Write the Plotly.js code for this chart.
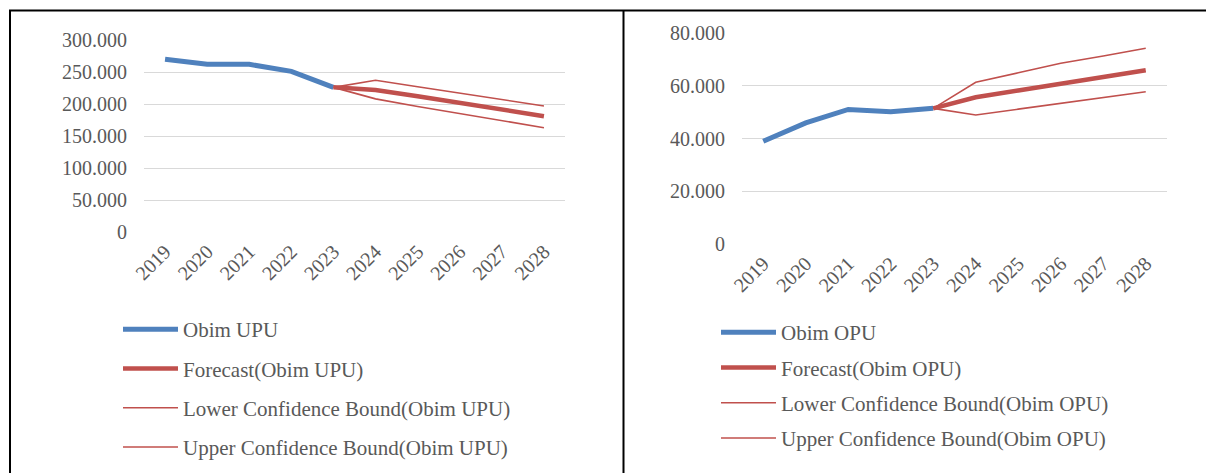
<!DOCTYPE html>
<html><head><meta charset="utf-8">
<script src="https://cdn.plot.ly/plotly-3.0.1.min.js"></script>
<style>html,body{margin:0;padding:0;background:#fff;}#chart{width:1206px;height:473px;}</style>
</head><body><div id="chart"></div>
<script>
const years = ['2019','2020','2021','2022','2023','2024','2025','2026','2027','2028'];

const upuActual   = [270, 262, 262, 251, 226, null, null, null, null, null];
const upuForecast = [null, null, null, null, 226, 222, 212, 202, 191, 181];
const upuLower    = [null, null, null, null, 226, 208, 196, 185, 174, 163];
const upuUpper    = [null, null, null, null, 226, 237, 227, 217, 207, 197];

const opuActual   = [39.0, 46.0, 51.1, 50.2, 51.5, null, null, null, null, null];
const opuForecast = [null, null, null, null, 51.5, 55.7, 58.3, 61.0, 63.4, 66.0];
const opuLower    = [null, null, null, null, 51.5, 49.0, 51.2, 53.4, 55.5, 57.8];
const opuUpper    = [null, null, null, null, 51.5, 61.4, 65.0, 68.6, 71.4, 74.3];

const upuTickVals = [0, 50, 100, 150, 200, 250, 300];
const upuTickText = ['0', '50.000', '100.000', '150.000', '200.000', '250.000', '300.000'];
const opuTickVals = [0, 20, 40, 60, 80];
const opuTickText = ['0', '20.000', '40.000', '60.000', '80.000'];

const upuNames = ['Obim UPU', 'Forecast(Obim UPU)', 'Lower Confidence Bound(Obim UPU)', 'Upper Confidence Bound(Obim UPU)'];
const opuNames = ['Obim OPU', 'Forecast(Obim OPU)', 'Lower Confidence Bound(Obim OPU)', 'Upper Confidence Bound(Obim OPU)'];

const BLUE = '#4F81BD', RED = '#C0504D';
const W = 1206, H = 473;
const px = v => v / W, py = v => 1 - v / H;

function mk(y, name, color, width, xa, ya, leg, grp) {
  return {x: years, y: y, name: name, type: 'scatter', mode: 'lines',
    line: {color: color, width: width}, xaxis: xa, yaxis: ya, legend: leg,
    legendgroup: grp, connectgaps: false, hoverinfo: 'skip'};
}

const data = [
  mk(upuActual, upuNames[0], BLUE, 5, 'x', 'y', 'legend', 'a1'),
  mk(upuForecast, upuNames[1], RED, 4.5, 'x', 'y', 'legend', 'a2'),
  mk(upuLower, upuNames[2], RED, 1.6, 'x', 'y', 'legend', 'a3'),
  mk(upuUpper, upuNames[3], RED, 1.6, 'x', 'y', 'legend', 'a4'),
  mk(opuActual, opuNames[0], BLUE, 5, 'x2', 'y2', 'legend2', 'b1'),
  mk(opuForecast, opuNames[1], RED, 4.5, 'x2', 'y2', 'legend2', 'b2'),
  mk(opuLower, opuNames[2], RED, 1.6, 'x2', 'y2', 'legend2', 'b3'),
  mk(opuUpper, opuNames[3], RED, 1.6, 'x2', 'y2', 'legend2', 'b4')
];

const FONT = '"Liberation Serif", "Times New Roman", serif';
const TXT = '#595959';

const xBase = {type: 'category', range: [-0.5, 9.5], showgrid: false, zeroline: false,
  showline: false, ticks: '', tickangle: -45, ticklabelstandoff: 3,
  tickfont: {family: FONT, size: 20, color: TXT}, fixedrange: true};
const yBase = {showgrid: true, gridcolor: '#D9D9D9', gridwidth: 1, zeroline: false, showline: false,
  ticks: '', tickmode: 'array', tickfont: {family: FONT, size: 20, color: TXT}, fixedrange: true, ticklabelstandoff: 16};

const legBase = {orientation: 'v', bgcolor: 'rgba(0,0,0,0)', borderwidth: 0,
  font: {family: FONT, size: 21, color: TXT}, traceorder: 'grouped', itemwidth: 55,
  xanchor: 'left', yanchor: 'top'};

const layout = {
  width: W, height: H, margin: {l: 0, r: 0, t: 0, b: 0},
  paper_bgcolor: '#fff', plot_bgcolor: '#fff', showlegend: true,
  font: {family: FONT, color: TXT},
  xaxis: Object.assign({}, xBase, {domain: [px(144), px(565)], anchor: 'y'}),
  yaxis: Object.assign({}, yBase, {domain: [py(232), py(40)], range: [0, 300], tickvals: upuTickVals, ticktext: upuTickText, anchor: 'x'}),
  xaxis2: Object.assign({}, xBase, {domain: [px(742), px(1167)], anchor: 'y2'}),
  yaxis2: Object.assign({}, yBase, {domain: [py(244), py(33.3)], range: [0, 80], tickvals: opuTickVals, ticktext: opuTickText, anchor: 'x2'}),
  legend: Object.assign({}, legBase, {x: px(118), y: py(309), tracegroupgap: 9}),
  legend2: Object.assign({}, legBase, {x: px(716), y: py(312), tracegroupgap: 5}),
  shapes: [
    {type: 'line', xref: 'paper', yref: 'paper', x0: px(9), x1: 1, y0: py(10.5), y1: py(10.5), line: {color: '#000', width: 2}},
    {type: 'line', xref: 'paper', yref: 'paper', x0: px(10), x1: px(10), y0: py(10), y1: 0, line: {color: '#000', width: 2}},
    {type: 'line', xref: 'paper', yref: 'paper', x0: px(623.5), x1: px(623.5), y0: py(10), y1: 0, line: {color: '#000', width: 2}}
  ]
};

Plotly.newPlot('chart', data, layout, {displayModeBar: false, staticPlot: true});
</script></body></html>
